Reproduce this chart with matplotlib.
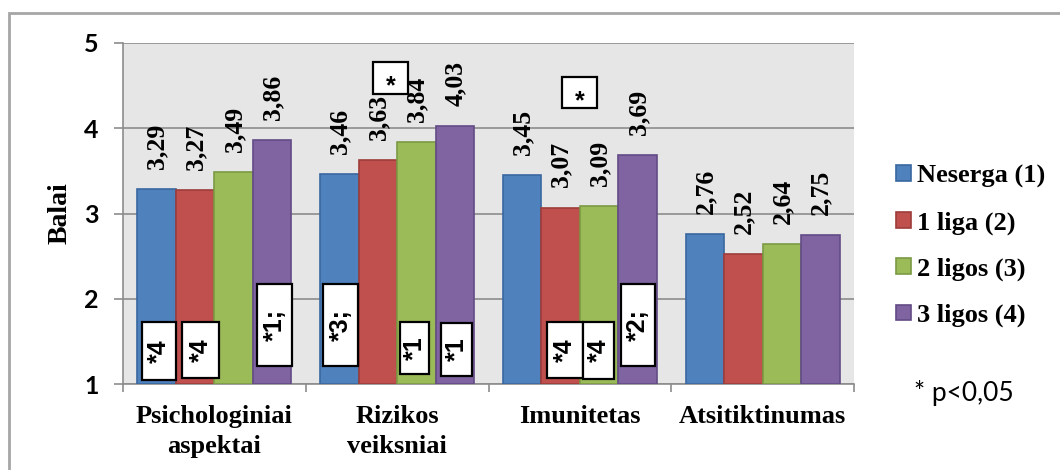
import matplotlib
matplotlib.use("Agg")
import matplotlib.pyplot as plt
from matplotlib.patches import Rectangle
import numpy as np

# ---- data ----
categories = ["Psichologiniai\naspektai", "Rizikos\nveiksniai", "Imunitetas", "Atsitiktinumas"]
series_names = ["Neserga (1)", "1 liga (2)", "2 ligos (3)", "3 ligos (4)"]
neserga = [3.29, 3.46, 3.45, 2.76]
liga1 = [3.27, 3.63, 3.07, 2.52]
ligos2 = [3.49, 3.84, 3.09, 2.64]
ligos3 = [3.86, 4.03, 3.69, 2.75]
yticks = [1, 2, 3, 4, 5]

# significance markers: (text, x0, x1, y0, y1, text_y) in data units;
# text_y is None for rotated labels centred in their box
sig_boxes = [
    ("*4", -0.396, -0.210, 1.047, 1.727, None),
    ("*4", -0.177, 0.025, 1.070, 1.727, None),
    ("*1;", 0.233, 0.425, 1.211, 2.173, None),
    ("*3;", 0.594, 0.786, 1.211, 2.173, None),
    ("*", 0.868, 1.059, 4.402, 4.777, 4.507),
    ("*1", 1.016, 1.174, 1.117, 1.727, None),
    ("*1", 1.240, 1.410, 1.094, 1.716, None),
    ("*", 1.902, 2.094, 4.238, 4.601, 4.331),
    ("*4", 1.820, 2.017, 1.070, 1.727, None),
    ("*4", 2.017, 2.187, 1.059, 1.727, None),
    ("*2;", 2.225, 2.411, 1.211, 2.173, None),
]

face_colors = ["#4F81BD", "#C0504D", "#9BBB59", "#8064A2"]
edge_colors = ["#3A67A0", "#9E3C3A", "#7C9A44", "#634C85"]

SERIF = "Liberation Serif"
SANS = "Liberation Sans"
plt.rcParams["mathtext.fontset"] = "custom"
plt.rcParams["mathtext.bf"] = "Liberation Sans:bold"

fig = plt.figure(figsize=(10.6, 4.7), dpi=100)
ax = fig.add_axes([123 / 1060, 1 - 384 / 470, (854 - 123) / 1060, (384 - 43) / 470])
ax.set_facecolor("#E6E6E6")

# outer chart frame
fig.add_artist(Rectangle((9 / 1060, -0.1), 1.2, 1.1 - 13 / 470, transform=fig.transFigure,
                         fill=False, edgecolor="#A6A6A6", linewidth=2, zorder=0))

x = np.arange(len(categories))
w = 0.211
all_series = [neserga, liga1, ligos2, ligos3]
bars = []
for k, vals in enumerate(all_series):
    offs = (k - 1.5) * w
    b = ax.bar(x + offs, np.array(vals) - 1, bottom=1, width=w, color=face_colors[k],
               edgecolor=edge_colors[k], linewidth=1.2, label=series_names[k], zorder=3)
    bars.append(b)
    for xi, v in zip(x + offs, vals):
        ax.annotate(f"{v:.2f}".replace(".", ","), (xi, v), xytext=(0.5, 14.5),
                    textcoords="offset points", rotation=90, ha="center", va="bottom",
                    fontfamily=SERIF, fontweight="bold", fontsize=18.5, zorder=4)

ax.set_xlim(-0.5, 3.5)
ax.set_ylim(1, 5)
ax.set_yticks(yticks)
ax.set_yticklabels([str(t) for t in yticks], fontfamily="Lato", fontweight="bold", fontsize=18)
ax.yaxis.grid(True, color="#8C8C8C", linewidth=1.2, zorder=0)
ax.set_axisbelow(True)
ax.tick_params(axis="y", length=6.5, width=1.2, color="#8C8C8C", pad=11)

ax.set_xticks(x)
ax.set_xticklabels(categories, fontfamily=SERIF, fontweight="bold", fontsize=19, linespacing=1.4)
ax.set_xticks(np.arange(-0.5, 4, 1), minor=True)
ax.tick_params(axis="x", which="major", length=0, pad=15)
ax.tick_params(axis="x", which="minor", length=5.5, width=1.2, color="#8C8C8C")

for s in ["top", "right"]:
    ax.spines[s].set_visible(False)
for s in ["left", "bottom"]:
    ax.spines[s].set_color("#8C8C8C")
    ax.spines[s].set_linewidth(1.2)

fig.text(60 / 1060, 1 - 213 / 470, "Balai", rotation=90, ha="center", va="center",
         fontfamily=SERIF, fontweight="bold", fontsize=20)

# significance boxes
for txt, x0, x1, y0, y1, ty in sig_boxes:
    ax.add_patch(Rectangle((x0, y0), x1 - x0, y1 - y0, facecolor="white", edgecolor="black",
                           linewidth=1.6, zorder=6))
    if ty is None:
        ax.text((x0 + x1) / 2, (y0 + y1) / 2, txt, rotation=90, ha="center", va="center",
                fontfamily=SANS, fontweight="bold", fontsize=18, zorder=7)
    else:
        ax.text((x0 + x1) / 2, ty, r"$\mathbf{" + txt + "}$", ha="center", va="center",
                fontsize=18, zorder=7)

leg = ax.legend(handles=bars, loc="center left", bbox_to_anchor=(896 / 1060, 1 - 246 / 470),
                bbox_transform=fig.transFigure, frameon=False, borderpad=0, borderaxespad=0,
                handlelength=0.55, handleheight=0.55, handletextpad=0.25, labelspacing=0.87,
                prop={"family": SERIF, "weight": "bold", "size": 19})

fig.text(914 / 1060, 1 - 393 / 470, "* p<0,05", ha="left", va="center",
         fontfamily="Lato", fontsize=19)

fig.savefig("out.png", dpi=100)
